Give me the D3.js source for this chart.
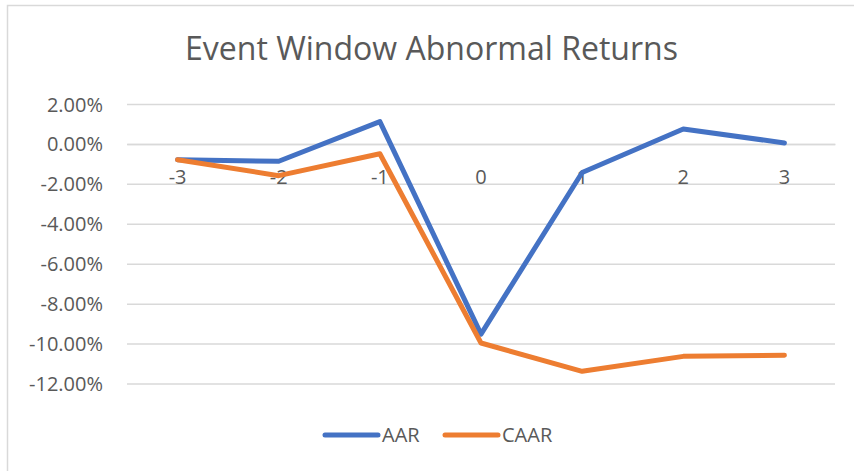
<!DOCTYPE html>
<html>
<head>
<meta charset="utf-8">
<script src="https://cdn.jsdelivr.net/npm/d3@7"></script>
<style>
  html, body { margin: 0; padding: 0; background: #fff; }
  svg { display: block; }
</style>
</head>
<body>
<svg id="chart" width="854" height="471"></svg>
<script>
const categories = ["-3", "-2", "-1", "0", "1", "2", "3"];
const aar  = [-0.79, -0.87, 1.12, -9.53, -1.43, 0.75, 0.05];
const caar = [-0.79, -1.59, -0.49, -9.97, -11.39, -10.64, -10.59];
const yTicks = [2, 0, -2, -4, -6, -8, -10, -12];
const seriesNames = ["AAR", "CAAR"];
const seriesColors = ["#4472C4", "#ED7D31"];
const title = "Event Window Abnormal Returns";

const svg = d3.select("#chart");
const font = "'Open Sans', 'Liberation Sans', sans-serif";
const textColor = "#595959";
const gridColor = "#d9d9d9";

// chart border
svg.append("rect")
  .attr("x", 7.5).attr("y", 5.5)
  .attr("width", 900).attr("height", 600)
  .attr("fill", "none")
  .attr("stroke", gridColor)
  .attr("stroke-width", 1.5);

const x = d3.scaleBand().domain(categories).range([127, 835]).padding(0);
const y = d3.scaleLinear().domain([-12, 2]).range([383.5, 104]);

// title
svg.append("text")
  .attr("x", 431.5).attr("y", 60)
  .attr("text-anchor", "middle")
  .attr("font-family", font)
  .attr("font-size", 33)
  .attr("fill", textColor)
  .attr("textLength", 493)
  .attr("lengthAdjust", "spacingAndGlyphs")
  .text(title);

// gridlines
const yAxis = d3.axisLeft(y).tickValues(yTicks)
  .tickSize(-(835 - 127))
  .tickPadding(24)
  .tickFormat(d => d.toFixed(2) + "%");
const gy = svg.append("g").attr("transform", "translate(127,0)").call(yAxis);
gy.select(".domain").remove();
gy.selectAll(".tick line").attr("stroke", gridColor).attr("stroke-width", 1.5);
gy.selectAll(".tick text")
  .attr("font-family", font)
  .attr("font-size", 20)
  .attr("fill", textColor)
  .attr("dy", "0.35em");

// x axis at zero
const xAxis = d3.axisBottom(x).tickSize(0).tickPadding(0);
const gx = svg.append("g").attr("transform", `translate(0,${y(0)})`).call(xAxis);
gx.select(".domain").attr("stroke", gridColor).attr("stroke-width", 1.5);
gx.selectAll(".tick text")
  .attr("font-family", font)
  .attr("font-size", 20)
  .attr("fill", textColor)
  .attr("y", 0)
  .attr("dy", "1.98em");

// lines
const line = d3.line()
  .x((d, i) => x(categories[i]) + x.bandwidth() / 2)
  .y(d => y(d));

[aar, caar].forEach((data, k) => {
  svg.append("path")
    .datum(data)
    .attr("d", line)
    .attr("fill", "none")
    .attr("stroke", seriesColors[k])
    .attr("stroke-width", 5)
    .attr("stroke-linecap", "round")
    .attr("stroke-linejoin", "round");
});

// legend
const legendItems = [
  { name: seriesNames[0], color: seriesColors[0], x0: 325, x1: 378, tx: 382 },
  { name: seriesNames[1], color: seriesColors[1], x0: 445, x1: 498, tx: 502 }
];
const lg = svg.append("g");
legendItems.forEach(it => {
  lg.append("line")
    .attr("x1", it.x0).attr("x2", it.x1)
    .attr("y1", 435).attr("y2", 435)
    .attr("stroke", it.color)
    .attr("stroke-width", 5)
    .attr("stroke-linecap", "round");
  lg.append("text")
    .attr("x", it.tx).attr("y", 435)
    .attr("dy", "0.35em")
    .attr("font-family", font)
    .attr("font-size", 20)
    .attr("fill", textColor)
    .text(it.name);
});
</script>
</body>
</html>
